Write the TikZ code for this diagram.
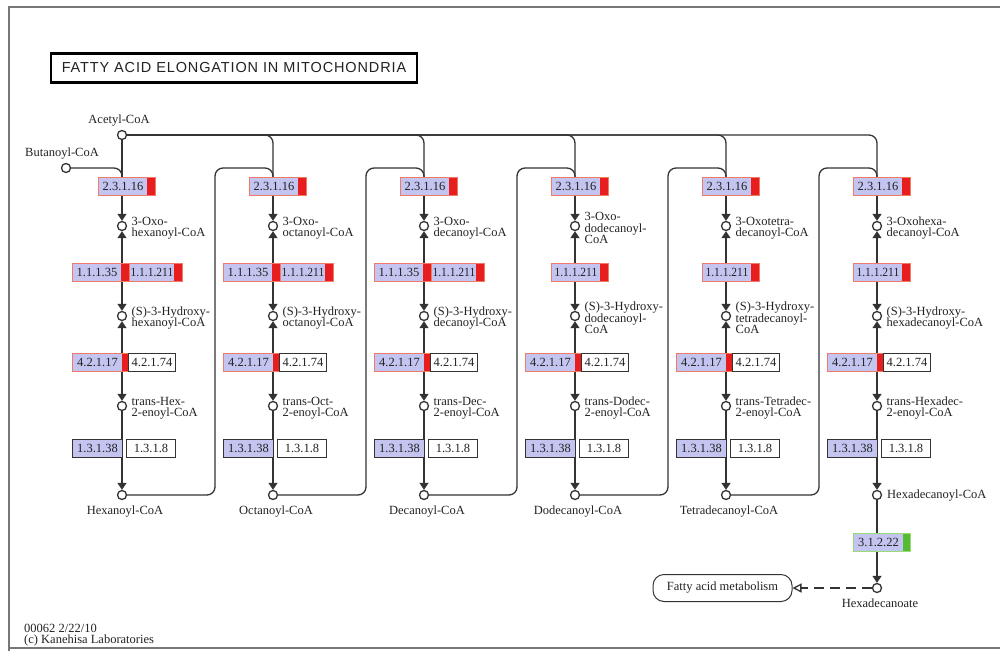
\documentclass[tikz,border=0pt]{standalone}
\usepackage{fontspec}
\setmainfont{Liberation Serif}
\newfontfamily\titlefont[LetterSpace=6]{Liberation Sans}
\usetikzlibrary{arrows.meta,backgrounds,calc}

\definecolor{enz}{HTML}{C4C4F0}
\definecolor{hit}{HTML}{E81E1E}
\definecolor{hitedge}{HTML}{F07A68}
\definecolor{grn}{HTML}{55BB33}
\definecolor{grnedge}{HTML}{99DD77}
\definecolor{ink}{HTML}{222222}
\definecolor{wire}{HTML}{333333}
\definecolor{frame}{HTML}{777777}

\newcommand\cpdfont{\fontsize{12.5}{11.5}\selectfont}
\newcommand\ecfont{\fontsize{12.5}{12}\selectfont}
\newcommand\narrowec[1]{\scalebox{0.92}[1]{#1}}

\tikzset{
  conn/.style={draw=wire, line width=1.3pt},
  tipd/.tip={Triangle[width=9pt,length=7pt]},
  cpd/.style={circle, draw=wire, line width=1.3pt, fill=white, minimum size=9pt, inner sep=0pt},
  cpdlabel/.style={font=\cpdfont, text=ink, inner sep=0pt, align=left},
  hitbox/.style={draw=hitedge, line width=0.9pt, fill=enz, inner sep=0pt,
    minimum height=18pt, font=\ecfont, text=ink,
    path picture={\fill[hit] ([xshift=-#1]path picture bounding box.north east)
      rectangle (path picture bounding box.south east);}},
  grnbox/.style={draw=grnedge, line width=0.9pt, fill=enz, inner sep=0pt,
    minimum height=18pt, font=\ecfont, text=ink,
    path picture={\fill[grn] ([xshift=-#1]path picture bounding box.north east)
      rectangle (path picture bounding box.south east);}},
  lavbox/.style={draw=wire, line width=1pt, fill=enz, inner sep=0pt,
    minimum height=18pt, font=\ecfont, text=ink},
  plainbox/.style={draw=wire, line width=1pt, fill=white, inner sep=0pt,
    minimum height=18pt, font=\ecfont, text=ink},
}

\begin{document}
\begin{tikzpicture}[x=1pt,y=-1pt]
\useasboundingbox (0,0) rectangle (1000,651);

% outer frame
\draw[frame, line width=1.5pt] (9,651) -- (9,7) -- (1000,7);
\draw[frame, line width=1.5pt] (9,648) -- (1000,648);

% title
\node[draw=black, line width=2.6pt, minimum width=366pt, minimum height=29pt, inner sep=0pt,
      font=\titlefont\fontsize{14.5}{15}\selectfont, text=ink] (title) at (234,68)
  {FATTY ACID ELONGATION IN MITOCHONDRIA};

% entry compounds
\node[cpd] (acetyl) at (122,135) {};
\node[cpdlabel, anchor=south] (acetyllbl) at (119,126) {Acetyl-CoA};
\node[cpd] (butanoyl) at (66,168) {};
\node[cpdlabel, anchor=south] (butanoyllbl) at (62,159) {Butanoyl-CoA};

% one column per elongation cycle
\foreach \i in {1,...,6}{
  \pgfmathsetmacro\X{122+151*(\i-1)}
  \coordinate (t\i) at (\X,186);
  \node[cpd] (a\i) at (\X,226) {};
  \node[cpd] (b\i) at (\X,316) {};
  \node[cpd] (c\i) at (\X,406) {};
  \node[cpd] (d\i) at (\X,495) {};
  % thiolase
  \node[hitbox=8pt, anchor=west] (k\i) at (\X-24,186) {\makebox[49pt]{2.3.1.16}\makebox[8pt]{}};
  % dehydrogenase
  \ifnum\i<4
    \node[hitbox=8pt, anchor=west] (ha\i) at (\X-50,272) {\makebox[49pt]{1.1.1.35}\makebox[8pt]{}};
    \node[hitbox=8pt, anchor=west] (hb\i) at (\X+7,272) {\makebox[45pt]{\narrowec{1.1.1.211}}\makebox[8pt]{}};
  \else
    \node[hitbox=8pt, anchor=west] (hb\i) at (\X-24,272) {\makebox[49pt]{\narrowec{1.1.1.211}}\makebox[8pt]{}};
  \fi
  % hydratase
  \node[hitbox=6pt, anchor=west] (y\i) at (\X-50,362) {\makebox[50pt]{4.2.1.17}\makebox[6pt]{}};
  \node[plainbox, anchor=west, minimum width=47pt] (z\i) at (\X+6,362) {4.2.1.74};
  % reductase
  \node[lavbox, anchor=west, minimum width=50pt] (r\i) at (\X-50,448) {1.3.1.38};
  \node[plainbox, anchor=west, minimum width=49pt] (s\i) at (\X+4,448) {1.3.1.8};
}

% compound names
\foreach \i/\la/\lb/\lc/\ld in {
  1/{3-Oxo-\\hexanoyl-CoA}/{(S)-3-Hydroxy-\\hexanoyl-CoA}/{trans-Hex-\\2-enoyl-CoA}/{Hexanoyl-CoA},
  2/{3-Oxo-\\octanoyl-CoA}/{(S)-3-Hydroxy-\\octanoyl-CoA}/{trans-Oct-\\2-enoyl-CoA}/{Octanoyl-CoA},
  3/{3-Oxo-\\decanoyl-CoA}/{(S)-3-Hydroxy-\\decanoyl-CoA}/{trans-Dec-\\2-enoyl-CoA}/{Decanoyl-CoA},
  4/{3-Oxo-\\dodecanoyl-\\CoA}/{(S)-3-Hydroxy-\\dodecanoyl-\\CoA}/{trans-Dodec-\\2-enoyl-CoA}/{Dodecanoyl-CoA},
  5/{3-Oxotetra-\\decanoyl-CoA}/{(S)-3-Hydroxy-\\tetradecanoyl-\\CoA}/{trans-Tetradec-\\2-enoyl-CoA}/{Tetradecanoyl-CoA}}{
  \node[cpdlabel, anchor=west] (la\i) at ([xshift=9.5pt,yshift=-2pt]a\i.center) {\la};
  \node[cpdlabel, anchor=west] (lb\i) at ([xshift=9.5pt,yshift=-2pt]b\i.center) {\lb};
  \node[cpdlabel, anchor=west] (lc\i) at ([xshift=9.5pt,yshift=-2pt]c\i.center) {\lc};
  \node[cpdlabel] (ld\i) at ([xshift=3pt,yshift=-17pt]d\i.center) {\ld};
}
\node[cpdlabel, anchor=west] (la6) at ([xshift=9.5pt,yshift=-2pt]a6.center) {3-Oxohexa-\\decanoyl-CoA};
\node[cpdlabel, anchor=west] (lb6) at ([xshift=9.5pt,yshift=-2pt]b6.center) {(S)-3-Hydroxy-\\hexadecanoyl-CoA};
\node[cpdlabel, anchor=west] (lc6) at ([xshift=9.5pt,yshift=-2pt]c6.center) {trans-Hexadec-\\2-enoyl-CoA};
\node[cpdlabel, anchor=west] (ld6) at ([xshift=10pt,yshift=-1pt]d6.center) {Hexadecanoyl-CoA};

% thioesterase branch
\node[grnbox=7pt, anchor=west] (te) at (853,542) {\makebox[50pt]{3.1.2.22}\makebox[7pt]{}};
\node[cpd] (hxa) at (877,588) {};
\node[cpdlabel] (hxalbl) at (880,603) {Hexadecanoate};
\node[draw=wire, line width=1pt, rounded corners=11pt, minimum width=139pt, minimum height=27pt,
      inner sep=0pt, font=\cpdfont, text=ink] (fam) at (722.5,588) {Fatty acid metabolism};

% footer
\node[cpdlabel, anchor=west, font=\fontsize{12.5}{12}\selectfont] (stamp) at (24,628) {00062 2/22/10};
\node[cpdlabel, anchor=west, font=\fontsize{12.5}{12}\selectfont] (copy) at (24,640) {(c) Kanehisa Laboratories};

% connectors
\begin{scope}[on background layer]
  \draw[conn, -{tipd}] (acetyl) -- (a1);
  \draw[conn, rounded corners=8pt] (butanoyl) -- (122,168) -- (t1);
  \foreach \i in {2,...,6}{
    \pgfmathsetmacro\X{122+151*(\i-1)}
    \pgfmathsetmacro\P{\X-58}
    \pgfmathtruncatemacro\j{\i-1}
    \draw[conn, rounded corners=8pt] (acetyl) -- (\X,135) -- (t\i);
    \draw[conn, rounded corners=8pt] (d\j) -- (\P,495) -- (\P,168) -- (\X,168) -- (t\i);
    \draw[conn, -{tipd}] (t\i) -- (a\i);
  }
  \foreach \i in {1,...,6}{
    \draw[conn, {tipd}-{tipd}] (a\i) -- (b\i);
    \draw[conn, {tipd}-{tipd}] (b\i) -- (c\i);
    \draw[conn, -{tipd}] (c\i) -- (d\i);
  }
  \draw[conn, -{tipd}] (d6) -- (hxa);
  \draw[conn, dash pattern=on 10pt off 6pt, -{Triangle[open,width=9pt,length=9pt]}] (hxa) -- (fam);
\end{scope}
\end{tikzpicture}
\end{document}
